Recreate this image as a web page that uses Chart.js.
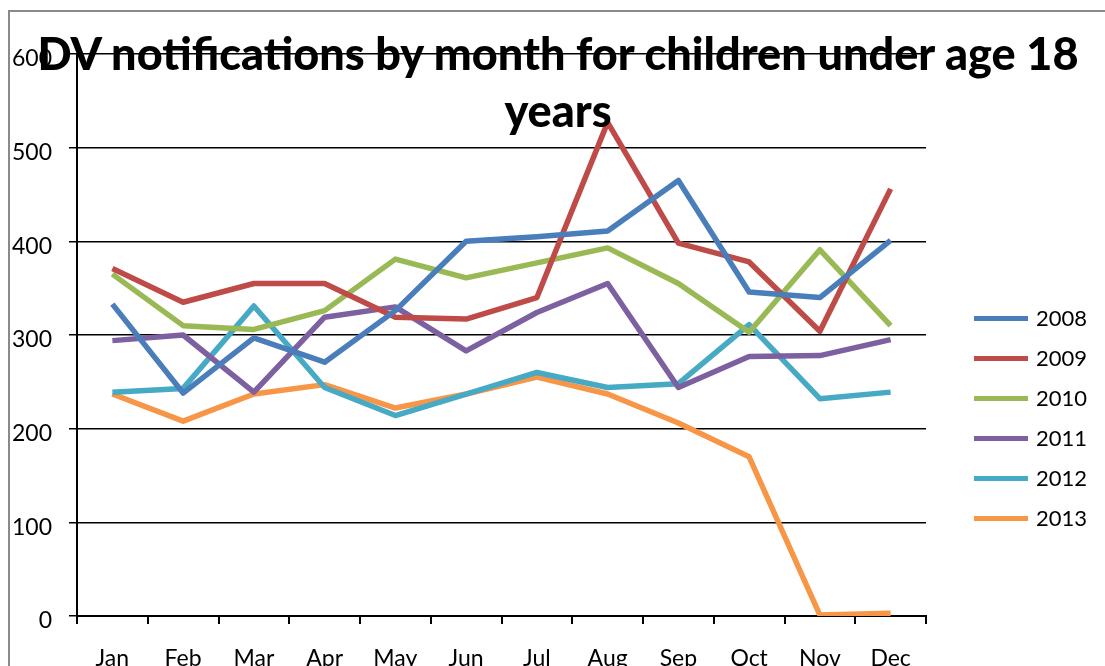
<!DOCTYPE html>
<html>
<head>
<meta charset="utf-8">
<script src="https://cdn.jsdelivr.net/npm/chart.js@4"></script>
<style>
  html, body { margin: 0; padding: 0; background: #fff; overflow: hidden; }
  #wrap { position: relative; width: 1105px; height: 666px; overflow: hidden; background: #fff; }
  #frame { position: absolute; left: 8px; top: 10px; width: 1200px; height: 800px; border-left: 2px solid #8a8a8a; border-top: 2px solid #8a8a8a; }
  #c { position: absolute; left: 0; top: 0; }
  #title { position: absolute; left: 0; top: 25px; width: 1116px; text-align: center; font-family: Lato, "Open Sans", sans-serif; font-weight: 900; font-size: 45px; line-height: 57px; color: #000; pointer-events: none; }
  #legend { position: absolute; left: 974px; top: 0; font-family: Lato, sans-serif; font-size: 22px; color: #000; }
  .item { position: absolute; left: 0; height: 24px; width: 120px; }
  .item .ln { position: absolute; left: 0; top: 10px; width: 54px; height: 5px; }
  .item .tx { position: absolute; left: 62px; top: 0; line-height: 24px; }
</style>
</head>
<body>
<div id="wrap">
  <div id="frame"></div>
  <canvas id="c" width="1105" height="666"></canvas>
  <div id="title">DV notifications by month for children under age 18 years</div>
  <div id="legend"></div>
</div>
<script>
const months = ['Jan','Feb','Mar','Apr','May','Jun','Jul','Aug','Sep','Oct','Nov','Dec'];
const seriesNames = ['2008','2009','2010','2011','2012','2013'];
const y2008 = [333, 238, 297, 271, 326, 400, 405, 411, 465, 346, 340, 401];
const y2009 = [371, 335, 355, 355, 319, 317, 340, 527, 398, 378, 304, 456];
const y2010 = [365, 310, 306, 326, 381, 361, 377, 393, 355, 303, 391, 310];
const y2011 = [294, 300, 239, 319, 330, 283, 324, 355, 244, 277, 278, 295];
const y2012 = [239, 243, 331, 244, 214, 237, 260, 244, 248, 311, 232, 239];
const y2013 = [237, 208, 237, 247, 222, 237, 255, 237, 206, 170, 1, 3];
const yTicks = [0, 100, 200, 300, 400, 500, 600];
const colors = ['#4A7EBB', '#BE4B48', '#98B954', '#7D60A0', '#46AAC5', '#F79646'];
const seriesData = [y2008, y2009, y2010, y2011, y2012, y2013];

const datasets = seriesNames.map((n, i) => ({
  label: n,
  data: seriesData[i],
  borderColor: colors[i],
  backgroundColor: colors[i],
  borderWidth: 5.5,
  pointRadius: 0,
  pointHoverRadius: 0,
  tension: 0,
  borderJoinStyle: 'round',
  borderCapStyle: 'butt'
}));

// HTML legend
const leg = document.getElementById('legend');
const legendY = [318, 358, 398, 438, 478, 518];
seriesNames.forEach((n, i) => {
  const d = document.createElement('div');
  d.className = 'item';
  d.style.top = (legendY[i] - 12) + 'px';
  d.innerHTML = '<div class="ln" style="background:' + colors[i] + '"></div><div class="tx">' + n + '</div>';
  leg.appendChild(d);
});

const FONT = { family: 'Lato, "Open Sans", sans-serif', size: 23 };

new Chart(document.getElementById('c'), {
  type: 'line',
  data: { labels: months, datasets },
  options: {
    responsive: false,
    animation: false,
    events: [],
    layout: { padding: { left: 0, right: 179, top: 54, bottom: 0 } },
    plugins: { legend: { display: false }, title: { display: false }, tooltip: { enabled: false } },
    scales: {
      x: {
        offset: true,
        grid: { offset: true, drawOnChartArea: false, drawTicks: true, tickLength: 8, color: '#000', lineWidth: 2 },
        border: { color: '#000', width: 2 },
        ticks: { color: '#000', font: FONT, padding: 21, maxRotation: 0, autoSkip: false },
        afterFit: s => { s.height = 50; }
      },
      y: {
        min: 0, max: 600,
        afterBuildTicks: s => { s.ticks = yTicks.map(v => ({ value: v })); },
        grid: { color: '#000', lineWidth: 1.5, tickLength: 8, drawTicks: true },
        border: { color: '#000', width: 2 },
        ticks: { color: '#000', font: FONT, padding: 17, labelOffset: 5 },
        afterFit: s => { s.width = 77; }
      }
    }
  }
});
</script>
</body>
</html>
